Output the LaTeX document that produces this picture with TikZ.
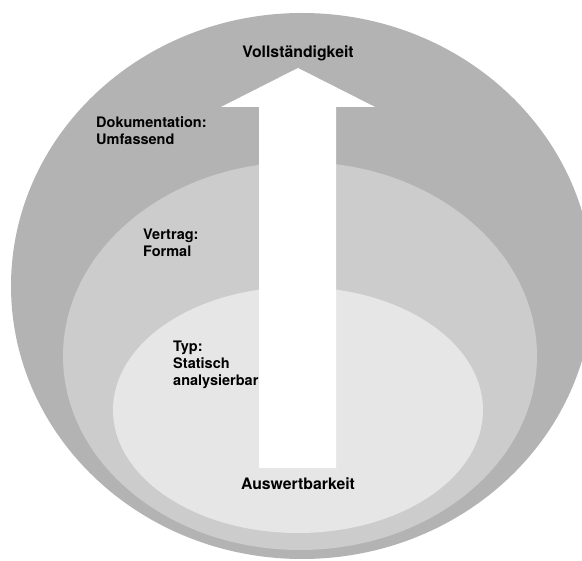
\documentclass[tikz,border=0pt]{standalone}
\usepackage{fontspec}
\setmainfont{TeX Gyre Heros}
\usetikzlibrary{shapes.geometric}
\definecolor{ringouter}{HTML}{B3B3B3}
\definecolor{ringmiddle}{HTML}{CCCCCC}
\definecolor{ringinner}{HTML}{E6E6E6}
\begin{document}
\begin{tikzpicture}[x=1pt,y=-1pt,
  ring/.style={ellipse, draw=none, inner sep=0pt},
  axistext/.style={inner sep=0pt, font=\fontsize{15.8}{19}\selectfont\bfseries},
  ringtext/.style={inner sep=0pt, align=left, font=\fontsize{14.5}{17}\selectfont\bfseries}]
  \useasboundingbox (0,0) rectangle (582,561);
  % nested levels
  \node[ring, fill=ringouter, minimum width=582pt, minimum height=546pt] (outer) at (302,286) {};
  \node[ring, fill=ringmiddle, minimum width=474pt, minimum height=388pt] (middle) at (300,356) {};
  \node[ring, fill=ringinner, minimum width=370pt, minimum height=246pt] (inner) at (298,410) {};
  % upward arrow
  \fill[white] (259,468) -- (259,107) -- (221,107) -- (298,68) -- (375,107)
    -- (336,107) -- (336,468) -- cycle;
  % axis labels
  \node[axistext, anchor=base] (top) at (298,58) {Vollständigkeit};
  \node[axistext, anchor=base] (bottom) at (298,490) {Auswertbarkeit};
  % level labels (anchored at the baseline of their last line)
  \node[ringtext, anchor=base west] (doc) at (96,145) {Dokumentation:\\Umfassend};
  \node[ringtext, anchor=base west] (vertrag) at (143,257) {Vertrag:\\Formal};
  \node[ringtext, anchor=base west] (typ) at (173,386) {Typ:\\Statisch\\analysierbar};
\end{tikzpicture}
\end{document}
